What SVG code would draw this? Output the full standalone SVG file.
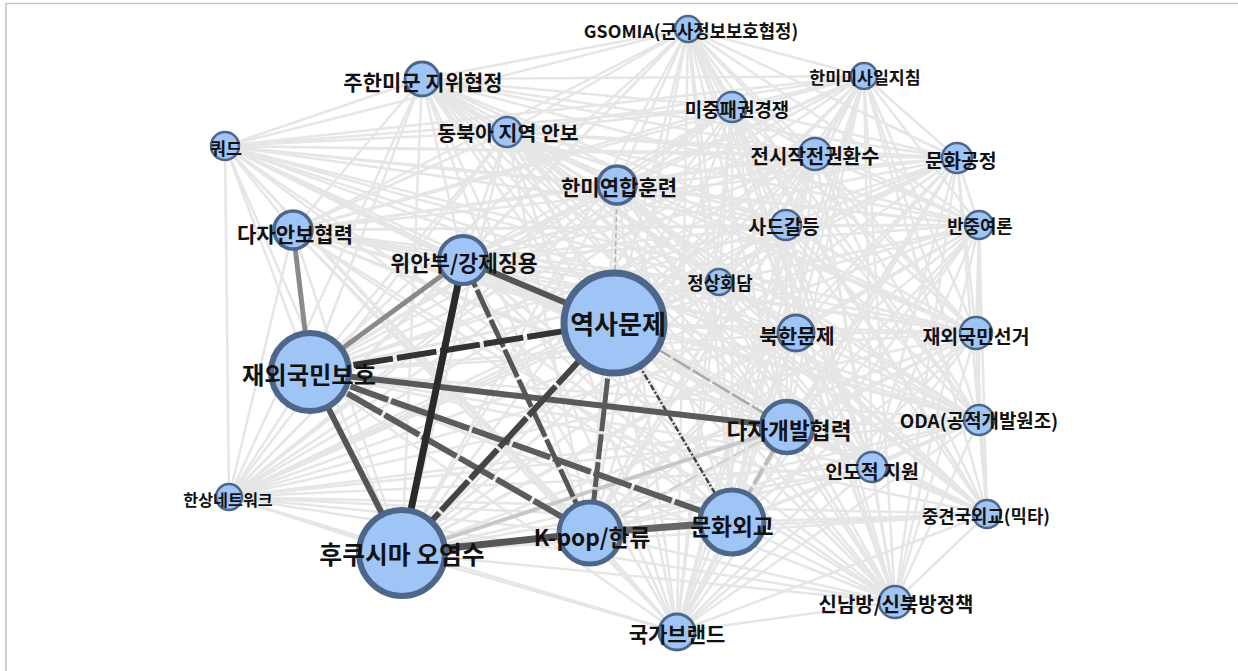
<svg xmlns="http://www.w3.org/2000/svg" width="1238" height="671" viewBox="0 0 1238 671">
<style>
.mesh path{fill:none;stroke:#e6e6e6;stroke-width:2.5}
.e{fill:none;stroke-linecap:butt}
.node circle{fill:#9fc4f6;stroke:#4d6689}
.node text{font-family:"Noto Sans CJK KR","Noto Sans",sans-serif;font-weight:bold;fill:#111;text-anchor:middle}
</style>
<rect x="0" y="0" width="1238" height="671" fill="#ffffff"/>
<line x1="5" y1="3.5" x2="1238" y2="3.5" stroke="#c4c4c4" stroke-width="1.5"/>
<line x1="6" y1="3" x2="6" y2="671" stroke="#d0d0d0" stroke-width="2"/>
<g id="connectors">
<g class="mesh">
<path d="M688 29L864 76M688 29L422 79M688 29L732 107M688 29L507 132M688 29L225 146M688 29L815 154M688 29L957 158M688 29L617 185M688 29L293 230M688 29L786 225M688 29L979 225M688 29L463 260M688 29L719 282M688 29L614 323M688 29L796 333M688 29L976 333M688 29L310 372M688 29L787 427M688 29L979 420M688 29L872 467M688 29L229 497M688 29L987 514M688 29L732 522M688 29L590 533M688 29L402 553M688 29L677 632M688 29L895 602"/>
<path d="M864 76L422 79M864 76L732 107M864 76L507 132M864 76L225 146M864 76L815 154M864 76L957 158M864 76L617 185M864 76L293 230M864 76L786 225M864 76L979 225M864 76L463 260M864 76L719 282M864 76L614 323M864 76L796 333M864 76L976 333M864 76L310 372M864 76L787 427M864 76L979 420M864 76L872 467M864 76L229 497M864 76L987 514M864 76L732 522M864 76L590 533M864 76L402 553M864 76L677 632M864 76L895 602"/>
<path d="M422 79L732 107M422 79L507 132M422 79L225 146M422 79L815 154M422 79L957 158M422 79L617 185M422 79L293 230M422 79L786 225M422 79L979 225M422 79L463 260M422 79L719 282M422 79L614 323M422 79L796 333M422 79L976 333M422 79L310 372M422 79L787 427M422 79L979 420M422 79L872 467M422 79L229 497M422 79L987 514M422 79L732 522M422 79L590 533M422 79L402 553M422 79L677 632M422 79L895 602"/>
<path d="M732 107L507 132M732 107L225 146M732 107L815 154M732 107L957 158M732 107L617 185M732 107L293 230M732 107L786 225M732 107L979 225M732 107L463 260M732 107L719 282M732 107L614 323M732 107L796 333M732 107L976 333M732 107L310 372M732 107L787 427M732 107L979 420M732 107L872 467M732 107L229 497M732 107L987 514M732 107L732 522M732 107L590 533M732 107L402 553M732 107L677 632M732 107L895 602"/>
<path d="M507 132L225 146M507 132L815 154M507 132L957 158M507 132L617 185M507 132L293 230M507 132L786 225M507 132L979 225M507 132L463 260M507 132L719 282M507 132L614 323M507 132L796 333M507 132L976 333M507 132L310 372M507 132L787 427M507 132L979 420M507 132L872 467M507 132L229 497M507 132L987 514M507 132L732 522M507 132L590 533M507 132L402 553M507 132L677 632M507 132L895 602"/>
<path d="M225 146L815 154M225 146L957 158M225 146L617 185M225 146L293 230M225 146L786 225M225 146L979 225M225 146L463 260M225 146L719 282M225 146L614 323M225 146L796 333M225 146L976 333M225 146L310 372M225 146L787 427M225 146L979 420M225 146L872 467M225 146L229 497M225 146L987 514M225 146L732 522M225 146L590 533M225 146L402 553M225 146L677 632M225 146L895 602"/>
<path d="M815 154L957 158M815 154L617 185M815 154L293 230M815 154L786 225M815 154L979 225M815 154L463 260M815 154L719 282M815 154L614 323M815 154L796 333M815 154L976 333M815 154L310 372M815 154L787 427M815 154L979 420M815 154L872 467M815 154L229 497M815 154L987 514M815 154L732 522M815 154L590 533M815 154L402 553M815 154L677 632M815 154L895 602"/>
<path d="M957 158L617 185M957 158L293 230M957 158L786 225M957 158L979 225M957 158L463 260M957 158L719 282M957 158L614 323M957 158L796 333M957 158L976 333M957 158L310 372M957 158L787 427M957 158L979 420M957 158L872 467M957 158L229 497M957 158L987 514M957 158L732 522M957 158L590 533M957 158L402 553M957 158L677 632M957 158L895 602"/>
<path d="M617 185L293 230M617 185L786 225M617 185L979 225M617 185L463 260M617 185L719 282M617 185L614 323M617 185L796 333M617 185L976 333M617 185L310 372M617 185L787 427M617 185L979 420M617 185L872 467M617 185L229 497M617 185L987 514M617 185L732 522M617 185L590 533M617 185L402 553M617 185L677 632M617 185L895 602"/>
<path d="M293 230L786 225M293 230L979 225M293 230L463 260M293 230L719 282M293 230L614 323M293 230L796 333M293 230L976 333M293 230L310 372M293 230L787 427M293 230L979 420M293 230L872 467M293 230L229 497M293 230L987 514M293 230L732 522M293 230L590 533M293 230L402 553M293 230L677 632M293 230L895 602"/>
<path d="M786 225L979 225M786 225L463 260M786 225L719 282M786 225L614 323M786 225L796 333M786 225L976 333M786 225L310 372M786 225L787 427M786 225L979 420M786 225L872 467M786 225L229 497M786 225L987 514M786 225L732 522M786 225L590 533M786 225L402 553M786 225L677 632M786 225L895 602"/>
<path d="M979 225L463 260M979 225L719 282M979 225L614 323M979 225L796 333M979 225L976 333M979 225L310 372M979 225L787 427M979 225L979 420M979 225L872 467M979 225L229 497M979 225L987 514M979 225L732 522M979 225L590 533M979 225L402 553M979 225L677 632M979 225L895 602"/>
<path d="M463 260L719 282M463 260L614 323M463 260L796 333M463 260L976 333M463 260L310 372M463 260L787 427M463 260L979 420M463 260L872 467M463 260L229 497M463 260L987 514M463 260L732 522M463 260L590 533M463 260L402 553M463 260L677 632M463 260L895 602"/>
<path d="M719 282L614 323M719 282L796 333M719 282L976 333M719 282L310 372M719 282L787 427M719 282L979 420M719 282L872 467M719 282L229 497M719 282L987 514M719 282L732 522M719 282L590 533M719 282L402 553M719 282L677 632M719 282L895 602"/>
<path d="M614 323L796 333M614 323L976 333M614 323L310 372M614 323L787 427M614 323L979 420M614 323L872 467M614 323L229 497M614 323L987 514M614 323L732 522M614 323L590 533M614 323L402 553M614 323L677 632M614 323L895 602"/>
<path d="M796 333L976 333M796 333L310 372M796 333L787 427M796 333L979 420M796 333L872 467M796 333L229 497M796 333L987 514M796 333L732 522M796 333L590 533M796 333L402 553M796 333L677 632M796 333L895 602"/>
<path d="M976 333L310 372M976 333L787 427M976 333L979 420M976 333L872 467M976 333L229 497M976 333L987 514M976 333L732 522M976 333L590 533M976 333L402 553M976 333L677 632M976 333L895 602"/>
<path d="M310 372L787 427M310 372L979 420M310 372L872 467M310 372L229 497M310 372L987 514M310 372L732 522M310 372L590 533M310 372L402 553M310 372L677 632M310 372L895 602"/>
<path d="M787 427L979 420M787 427L872 467M787 427L229 497M787 427L987 514M787 427L732 522M787 427L590 533M787 427L402 553M787 427L677 632M787 427L895 602"/>
<path d="M979 420L872 467M979 420L229 497M979 420L987 514M979 420L732 522M979 420L590 533M979 420L402 553M979 420L677 632M979 420L895 602"/>
<path d="M872 467L229 497M872 467L987 514M872 467L732 522M872 467L590 533M872 467L402 553M872 467L677 632M872 467L895 602"/>
<path d="M229 497L987 514M229 497L732 522M229 497L590 533M229 497L402 553M229 497L677 632M229 497L895 602"/>
<path d="M987 514L732 522M987 514L590 533M987 514L402 553M987 514L677 632M987 514L895 602"/>
<path d="M732 522L590 533M732 522L402 553M732 522L677 632M732 522L895 602M590 533L402 553M590 533L677 632M590 533L895 602M402 553L677 632M402 553L895 602M677 632L895 602"/>
</g>
<g id="strong-edges">
<line class="e" x1="617" y1="185" x2="614" y2="323" stroke="#b5b5b5" stroke-width="1.5" stroke-dasharray="5 3"/>
<line class="e" x1="402" y1="553" x2="787" y2="427" stroke="#c8c8c8" stroke-width="4"/>
<line class="e" x1="590" y1="533" x2="787" y2="427" stroke="#cfcfcf" stroke-width="2" stroke-dasharray="14 4"/>
<line class="e" x1="732" y1="522" x2="787" y2="427" stroke="#bdbdbd" stroke-width="4" stroke-dasharray="18 4"/>
<line class="e" x1="614" y1="323" x2="787" y2="427" stroke="#a8a8a8" stroke-width="2.5" stroke-dasharray="20 3"/>
<line class="e" x1="614" y1="323" x2="732" y2="522" stroke="#444" stroke-width="2.5" stroke-dasharray="6 2 2 2"/>
<line class="e" x1="310" y1="372" x2="293" y2="230" stroke="#8a8a8a" stroke-width="5"/>
<line class="e" x1="310" y1="372" x2="463" y2="260" stroke="#8a8a8a" stroke-width="5"/>
<line class="e" x1="310" y1="372" x2="787" y2="427" stroke="#5a5a5a" stroke-width="6"/>
<line class="e" x1="310" y1="372" x2="732" y2="522" stroke="#5c5c5c" stroke-width="6" stroke-dasharray="40 3"/>
<line class="e" x1="310" y1="372" x2="590" y2="533" stroke="#5c5c5c" stroke-width="6" stroke-dasharray="40 3"/>
<line class="e" x1="310" y1="372" x2="402" y2="553" stroke="#555" stroke-width="6"/>
<line class="e" x1="463" y1="260" x2="614" y2="323" stroke="#555" stroke-width="6"/>
<line class="e" x1="463" y1="260" x2="590" y2="533" stroke="#555" stroke-width="5" stroke-dasharray="30 3"/>
<line class="e" x1="614" y1="323" x2="590" y2="533" stroke="#5a5a5a" stroke-width="5" stroke-dasharray="25 3"/>
<line class="e" x1="614" y1="323" x2="402" y2="553" stroke="#444" stroke-width="6" stroke-dasharray="40 3"/>
<line class="e" x1="310" y1="372" x2="614" y2="323" stroke="#333" stroke-width="6" stroke-dasharray="40 4"/>
<line class="e" x1="463" y1="260" x2="402" y2="553" stroke="#2a2a2a" stroke-width="7"/>
<line class="e" x1="402" y1="553" x2="590" y2="533" stroke="#555" stroke-width="7"/>
<line class="e" x1="590" y1="533" x2="732" y2="522" stroke="#666" stroke-width="7"/>
</g>
</g>
<g id="n1" class="node"><circle cx="688" cy="29" r="13" stroke-width="2.5"/><text x="691" y="38" font-size="17.8">GSOMIA(군사정보보호협정)</text></g>
<g id="n2" class="node"><circle cx="864" cy="76" r="13" stroke-width="2.5"/><text x="865" y="84" font-size="17.3">한미미사일지침</text></g>
<g id="n3" class="node"><circle cx="422" cy="79" r="17" stroke-width="3"/><text x="423" y="90" font-size="21">주한미군 지위협정</text></g>
<g id="n4" class="node"><circle cx="732" cy="107" r="15" stroke-width="2.5"/><text x="737" y="117" font-size="18.9">미중패권경쟁</text></g>
<g id="n5" class="node"><circle cx="507" cy="132" r="15" stroke-width="2.5"/><text x="508" y="141" font-size="20.5">동북아 지역 안보</text></g>
<g id="n6" class="node"><circle cx="225" cy="146" r="14" stroke-width="2.5"/><text x="226" y="155" font-size="17.3">쿼드</text></g>
<g id="n7" class="node"><circle cx="815" cy="154" r="16" stroke-width="2.5"/><text x="815" y="164" font-size="20">전시작전권환수</text></g>
<g id="n8" class="node"><circle cx="957" cy="158" r="15" stroke-width="2.5"/><text x="961" y="168" font-size="19.4">문화공정</text></g>
<g id="n9" class="node"><circle cx="617" cy="185" r="19" stroke-width="3.5"/><text x="619" y="195" font-size="21">한미연합훈련</text></g>
<g id="n10" class="node"><circle cx="293" cy="230" r="19" stroke-width="3.5"/><text x="295" y="242" font-size="21">다자안보협력</text></g>
<g id="n11" class="node"><circle cx="786" cy="225" r="15" stroke-width="2.5"/><text x="784" y="234" font-size="19.4">사드갈등</text></g>
<g id="n12" class="node"><circle cx="979" cy="225" r="14" stroke-width="2.5"/><text x="980" y="233" font-size="17.8">반중여론</text></g>
<g id="n13" class="node"><circle cx="463" cy="260" r="24" stroke-width="4"/><text x="464" y="271" font-size="21.6">위안부/강제징용</text></g>
<g id="n14" class="node"><circle cx="719" cy="282" r="13" stroke-width="2.5"/><text x="720" y="290" font-size="17.8">정상회담</text></g>
<g id="n15" class="node"><circle cx="614" cy="323" r="50" stroke-width="7"/><text x="618" y="334" font-size="26">역사문제</text></g>
<g id="n16" class="node"><circle cx="796" cy="333" r="18" stroke-width="3"/><text x="797" y="344" font-size="20.5">북한문제</text></g>
<g id="n17" class="node"><circle cx="976" cy="333" r="16" stroke-width="2.5"/><text x="976" y="344" font-size="19.4">재외국민선거</text></g>
<g id="n18" class="node"><circle cx="310" cy="372" r="39" stroke-width="6"/><text x="309" y="384" font-size="24.3">재외국민보호</text></g>
<g id="n19" class="node"><circle cx="787" cy="427" r="26" stroke-width="4.5"/><text x="789" y="439" font-size="22.7">다자개발협력</text></g>
<g id="n20" class="node"><circle cx="979" cy="420" r="15" stroke-width="2.5"/><text x="979" y="428" font-size="18.9">ODA(공적개발원조)</text></g>
<g id="n21" class="node"><circle cx="872" cy="467" r="15" stroke-width="2.5"/><text x="872" y="479" font-size="19.4">인도적 지원</text></g>
<g id="n22" class="node"><circle cx="229" cy="497" r="13" stroke-width="2.5"/><text x="228" y="506" font-size="16.2">한상네트워크</text></g>
<g id="n23" class="node"><circle cx="987" cy="514" r="14" stroke-width="2.5"/><text x="986" y="523" font-size="17.8">중견국외교(믹타)</text></g>
<g id="n24" class="node"><circle cx="732" cy="522" r="32" stroke-width="5"/><text x="732" y="535" font-size="22.7">문화외교</text></g>
<g id="n25" class="node"><circle cx="590" cy="533" r="31" stroke-width="5"/><text x="592" y="546" font-size="22.7">K-pop/한류</text></g>
<g id="n26" class="node"><circle cx="402" cy="553" r="43" stroke-width="6"/><text x="402" y="564" font-size="24.8">후쿠시마 오염수</text></g>
<g id="n27" class="node"><circle cx="677" cy="632" r="18" stroke-width="3"/><text x="677" y="642" font-size="21">국가브랜드</text></g>
<g id="n28" class="node"><circle cx="895" cy="602" r="16" stroke-width="2.5"/><text x="896" y="612" font-size="20">신남방/신북방정책</text></g>
</svg>
